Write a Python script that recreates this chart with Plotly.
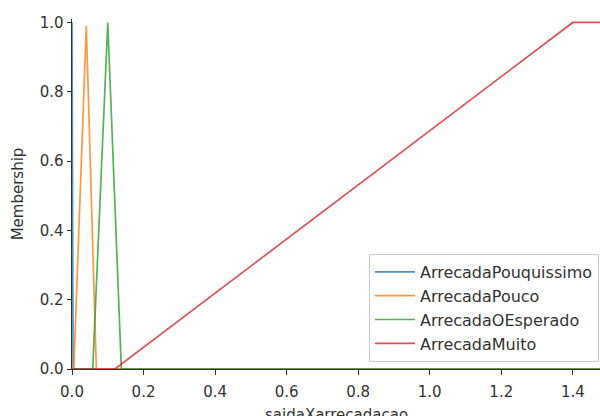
import plotly.graph_objects as go

# Membership breakpoints
names = ["ArrecadaPouquissimo", "ArrecadaPouco", "ArrecadaOEsperado", "ArrecadaMuito"]
pouquissimo_x = [0.0, 0.003, 1.476]
pouquissimo_y = [1.0, 0.0, 0.0]
pouco_x = [0.0, 0.005, 0.04, 0.068, 1.476]
pouco_y = [0.0, 0.0, 0.99, 0.0, 0.0]
esperado_x = [0.0, 0.058, 0.10, 0.138, 1.476]
esperado_y = [0.0, 0.0, 1.0, 0.0, 0.0]
muito_x = [0.0, 0.12, 1.40, 1.476]
muito_y = [0.0, 0.0, 1.0, 1.0]

xs = [pouquissimo_x, pouco_x, esperado_x, muito_x]
ys = [pouquissimo_y, pouco_y, esperado_y, muito_y]
colors = ["#1f77b4", "#ff7f0e", "#2ca02c", "#d62728"]

x_ticks = [0.0, 0.2, 0.4, 0.6, 0.8, 1.0, 1.2, 1.4]
y_ticks = [0.0, 0.2, 0.4, 0.6, 0.8, 1.0]
x_title = "saidaXarrecadacao"
y_title = "Membership"

fig = go.Figure()
for n, x, y, c in zip(names, xs, ys, colors):
    fig.add_trace(go.Scatter(x=x, y=y, mode="lines", name=n,
                             line=dict(color=c, width=1.7), opacity=0.8))

font = dict(family="DejaVu Sans", size=15, color="#333333")
fig.update_layout(
    width=600, height=416,
    margin=dict(l=71.5, r=0, t=19.2, b=46.7),
    paper_bgcolor="white", plot_bgcolor="white",
    font=font,
    showlegend=True,
    legend=dict(x=0.998, xanchor="right", y=0.02, yanchor="bottom",
                bordercolor="#d0d0d0", borderwidth=1,
                bgcolor="rgba(255,255,255,0.8)",
                font=dict(family="DejaVu Sans", size=16, color="#333333"),
                itemwidth=40, tracegroupgap=0),
)
fig.update_xaxes(range=[0, 1.476], tickvals=x_ticks,
                 ticktext=[f"{v:.1f}" for v in x_ticks],
                 showgrid=False, zeroline=False, showline=True,
                 linecolor="#333333", linewidth=1,
                 ticks="outside", ticklen=4.5, tickcolor="#333333",
                 tickfont=dict(size=15), ticklabelstandoff=4,
                 automargin=False)
fig.update_yaxes(range=[0, 1.01], tickvals=y_ticks,
                 ticktext=[f"{v:.1f}" for v in y_ticks],
                 showgrid=False, zeroline=False, showline=True,
                 linecolor="#333333", linewidth=1,
                 ticks="outside", ticklen=4.5, tickcolor="#333333",
                 tickfont=dict(size=15),
                 title=dict(text=y_title, standoff=12,
                            font=dict(size=15)),
                 automargin=False)
fig.add_annotation(text=x_title, xref="paper", yref="paper",
                   x=0.5, y=-0.1, xanchor="center", yanchor="top",
                   showarrow=False, font=dict(size=15, color="#333333"))

fig.write_html(
    "out.html",
    config={"displayModeBar": False},
    post_script="document.body.style.margin='0';"
                "document.body.style.overflow='hidden';",
)
